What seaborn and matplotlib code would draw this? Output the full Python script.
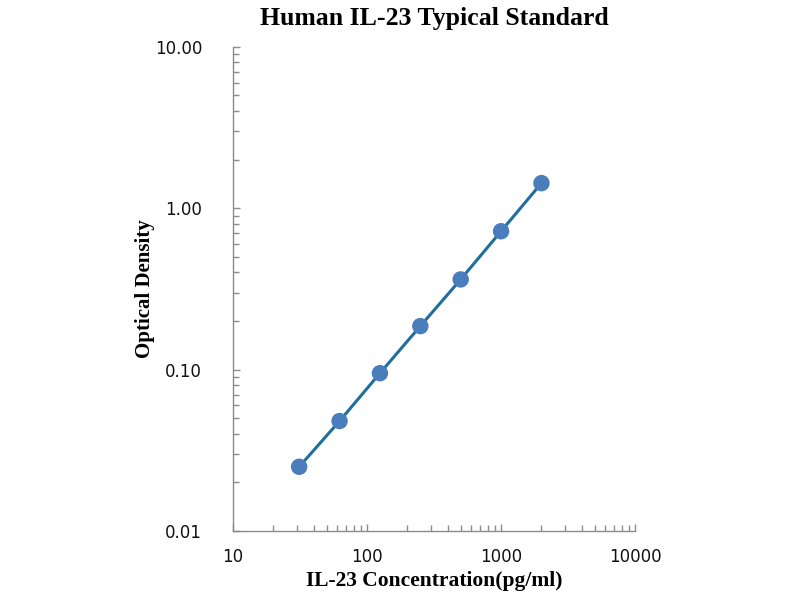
import numpy as np
import pandas as pd
import matplotlib
matplotlib.use("Agg")
import matplotlib.pyplot as plt
import seaborn as sns
from matplotlib.ticker import FixedLocator, FixedFormatter, LogLocator, NullFormatter

concentration = [31.25, 62.5, 125, 250, 500, 1000, 2000]
optical_density = [0.025, 0.048, 0.095, 0.186, 0.362, 0.72, 1.43]

x_ticks = [10, 100, 1000, 10000]
x_labels = ["10", "100", "1000", "10000"]
y_ticks = [0.01, 0.1, 1, 10]
y_labels = ["0.01", "0.10", "1.00", "10.00"]

sns.set_style("white")
plt.rcParams["font.family"] = ["DejaVu Sans"]

df = pd.DataFrame({"conc": concentration, "od": optical_density})

fig = plt.figure(figsize=(8, 6), dpi=100)
ax = fig.add_axes([0.291, 0.115, 0.503, 0.807])

sns.lineplot(data=df, x="conc", y="od", ax=ax, color="#1f6e9c", linewidth=2.2)
sns.scatterplot(data=df, x="conc", y="od", ax=ax, color="#4a7dbb", s=140,
                edgecolor="none", zorder=3)

ax.set_xscale("log")
ax.set_yscale("log")
ax.set_xlim(10, 10000)
ax.set_ylim(0.01, 10)

ax.xaxis.set_major_locator(FixedLocator(x_ticks))
ax.xaxis.set_major_formatter(FixedFormatter(x_labels))
ax.yaxis.set_major_locator(FixedLocator(y_ticks))
ax.yaxis.set_major_formatter(FixedFormatter(y_labels))
ax.xaxis.set_minor_locator(LogLocator(base=10, subs=np.arange(2, 10)))
ax.yaxis.set_minor_locator(LogLocator(base=10, subs=np.arange(2, 10)))
ax.xaxis.set_minor_formatter(NullFormatter())
ax.yaxis.set_minor_formatter(NullFormatter())

for side in ["top", "right"]:
    ax.spines[side].set_visible(False)
for side in ["left", "bottom"]:
    ax.spines[side].set_color("#8c8c8c")
    ax.spines[side].set_linewidth(1.0)

ax.tick_params(axis="both", which="both", direction="in", color="#8c8c8c",
               bottom=True, left=True, labelsize=12, labelcolor="#111111")
ax.tick_params(axis="both", which="major", length=5, width=1)
ax.tick_params(axis="both", which="minor", length=4, width=1)
ax.tick_params(axis="y", pad=22)
ax.tick_params(axis="x", pad=12)
for lab in ax.get_xticklabels() + ax.get_yticklabels():
    lab.set_fontfamily("DejaVu Sans")

ax.set_title("Human IL-23 Typical Standard", fontfamily="Liberation Serif",
             fontweight="bold", fontsize=18.5, pad=16, color="black")
ax.set_xlabel("IL-23 Concentration(pg/ml)", fontfamily="Liberation Serif",
              fontweight="bold", fontsize=15.5, labelpad=4, color="black")
ax.set_ylabel("Optical Density", fontfamily="Liberation Serif",
              fontweight="bold", fontsize=15, labelpad=0, color="black")

fig.savefig("out.png", dpi=100)
